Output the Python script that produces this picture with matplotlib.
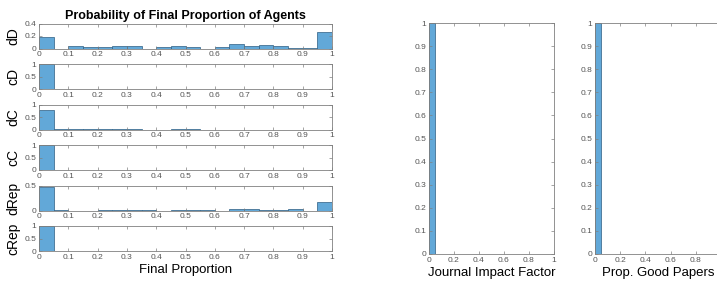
import numpy as np
import matplotlib
matplotlib.use("Agg")
import matplotlib.pyplot as plt

plt.rcParams['font.family'] = ['Liberation Sans', 'DejaVu Sans']

# ---- data (probabilities per 0.05-wide bin, 20 bins on [0,1]) ----
bin_edges = np.linspace(0, 1, 21)
row_labels = ['dD', 'cD', 'dC', 'cC', 'dRep', 'cRep']
dD = [0.18, 0.0, 0.04, 0.02, 0.02, 0.04, 0.04, 0.0, 0.02, 0.04,
      0.03, 0.0, 0.02, 0.065, 0.045, 0.055, 0.04, 0.01, 0.01, 0.27]
cD = [1.0] + [0.0] * 19
dC = [0.78, 0.005, 0.03, 0.03, 0.03, 0.03, 0.02, 0.0, 0.0, 0.005,
      0.005, 0.0, 0.0, 0.0, 0.0, 0.0, 0.0, 0.0, 0.0, 0.0]
cC = [1.0] + [0.0] * 19
dRep = [0.48, 0.005, 0.0, 0.0, 0.005, 0.005, 0.01, 0.005, 0.0, 0.01,
        0.02, 0.01, 0.0, 0.04, 0.04, 0.02, 0.02, 0.03, 0.0, 0.17]
cRep = [1.0] + [0.0] * 19
row_values = [dD, cD, dC, cC, dRep, cRep]
row_ylims = [0.4, 1, 1, 1, 0.5, 1]
row_yticks = [[0, 0.2, 0.4], [0, 0.5, 1], [0, 0.5, 1], [0, 0.5, 1], [0, 0.5], [0, 0.5, 1]]
left_xticks = [0, 0.1, 0.2, 0.3, 0.4, 0.5, 0.6, 0.7, 0.8, 0.9, 1]

jif = [1.0] + [0.0] * 19
good = [1.0] + [0.0] * 19
right_xticks = [0, 0.2, 0.4, 0.6, 0.8, 1]
right_yticks = [0, 0.1, 0.2, 0.3, 0.4, 0.5, 0.6, 0.7, 0.8, 0.9, 1]

W, H = 717, 286
fig = plt.figure(figsize=(W / 100, H / 100), dpi=100)

face = '#62a8d8'
edge = '#2c5d82'
spine = '#808080'
tickcol = '#555555'


def fmt(v):
    return '%g' % v


def style(ax):
    for s in ax.spines.values():
        s.set_color(spine)
        s.set_linewidth(0.6)
    ax.tick_params(direction='in', length=2.5, width=0.5, colors=spine,
                   labelcolor=tickcol, labelsize=6, top=True, right=True, pad=2)


def px_axes(x0, y0, x1, y1):
    return fig.add_axes([x0 / W, 1 - y1 / H, (x1 - x0) / W, (y1 - y0) / H])


centers = (bin_edges[:-1] + bin_edges[1:]) / 2
width = 0.05

for i, (lab, vals) in enumerate(zip(row_labels, row_values)):
    top = 23.5 + 40.5 * i
    ax = px_axes(39, top, 332, top + 25)
    ax.bar(centers, vals, width=width, color=face, edgecolor=edge, linewidth=0.5)
    ax.set_xlim(0, 1)
    ax.set_ylim(0, row_ylims[i])
    ax.set_xticks(left_xticks)
    ax.set_xticklabels([fmt(v) for v in left_xticks])
    ax.set_yticks(row_yticks[i])
    ax.set_yticklabels([fmt(v) for v in row_yticks[i]])
    ax.set_ylabel(lab, fontsize=10, labelpad=3)
    style(ax)
    if i == 0:
        ax.set_title('Probability of Final Proportion of Agents',
                     fontsize=9, fontweight='bold', pad=3)
    if i == len(row_labels) - 1:
        ax.set_xlabel('Final Proportion', fontsize=9.5, labelpad=2)

for k, (x0, x1, vals, lab) in enumerate([(429, 554, jif, 'Journal Impact Factor'),
                                         (595, 721, good, 'Prop. Good Papers')]):
    ax = px_axes(x0, 23, x1, 254)
    ax.bar(centers, vals, width=width, color=face, edgecolor=edge, linewidth=0.5)
    ax.set_xlim(0, 1)
    ax.set_ylim(0, 1)
    ax.set_xticks(right_xticks)
    labels = [fmt(v) for v in right_xticks]
    if k == 1:
        labels[-1] = ''  # falls outside the figure edge in the reference
    ax.set_xticklabels(labels)
    ax.set_yticks(right_yticks)
    ax.set_yticklabels([fmt(v) for v in right_yticks])
    ax.set_xlabel(lab, fontsize=9.5, labelpad=2)
    style(ax)

fig.savefig('out.png', dpi=100)
